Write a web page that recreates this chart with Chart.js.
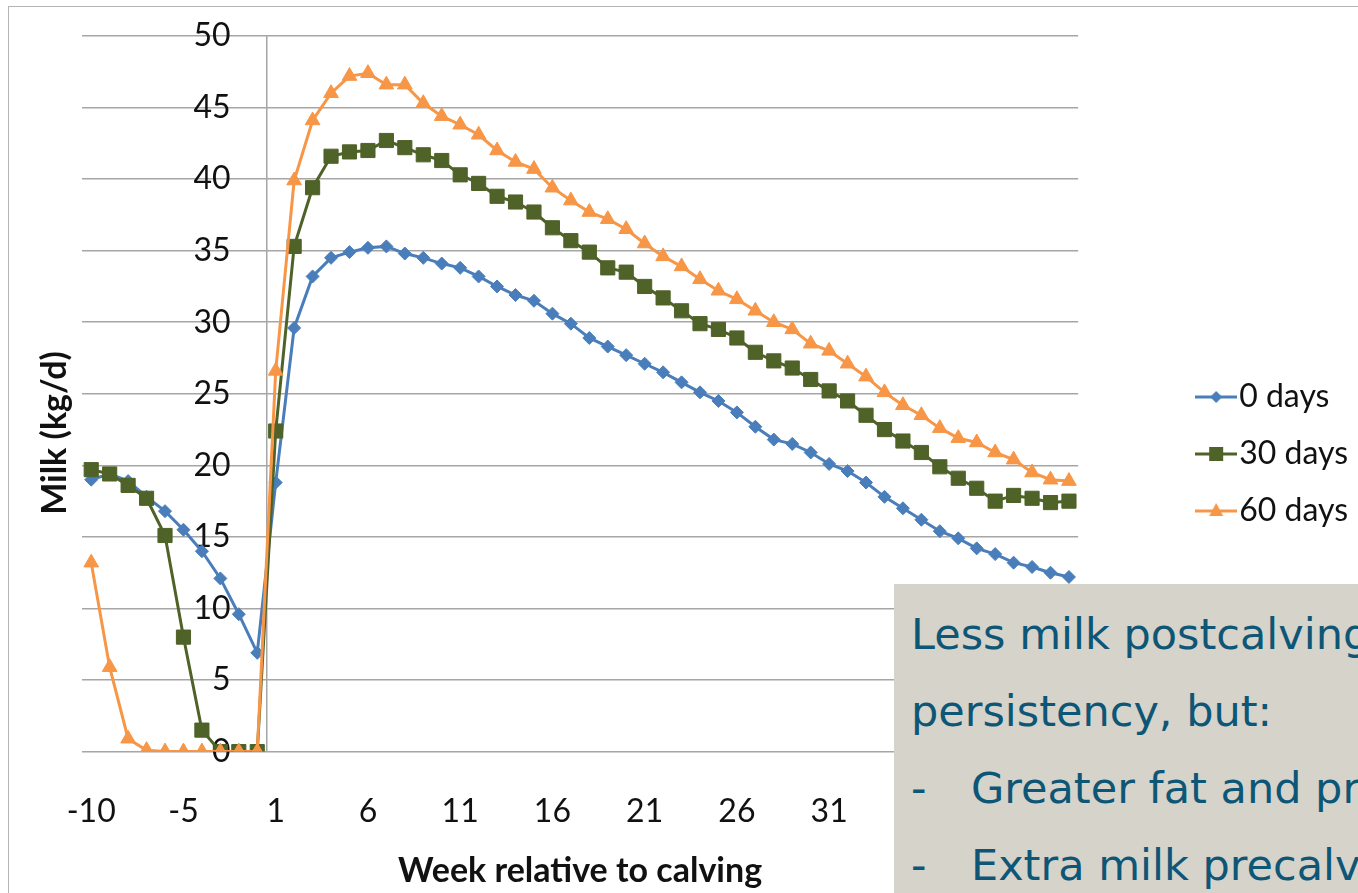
<!DOCTYPE html>
<html>
<head>
<meta charset="utf-8">
<title>Milk yield by dry period length</title>
<script src="https://cdn.jsdelivr.net/npm/chart.js@4.4.1/dist/chart.umd.min.js"></script>
<style>
    html, body { margin: 0; padding: 0; background: #fff; overflow: hidden; }
    .stage { position: relative; width: 1358px; height: 893px; overflow: hidden; }
    .frame {
        position: absolute; left: 8px; top: 6px; width: 1400px; height: 1000px;
        border: 1.5px solid #b4b4b4; box-sizing: border-box;
    }
    #milkChart { position: absolute; left: 0; top: 0; }
    .note {
        position: absolute; left: 894px; top: 584px; right: 0; bottom: 0;
        background: #d6d3cb; color: #0d5676;
        font-family: "DejaVu Sans", Verdana, sans-serif; font-size: 43px;
        line-height: 77px; padding: 12px 0 0 17px; white-space: nowrap; overflow: hidden;
    }
    .note .dash { display: inline-block; width: 60px; }
</style>
</head>
<body>
<div class="stage">
    <div class="frame"></div>
    <canvas id="milkChart" width="1358" height="893"></canvas>
    <div class="note">
        <div>Less milk postcalving</div>
        <div>persistency, but:</div>
        <div><span class="dash">-</span>Greater fat and protein</div>
        <div><span class="dash">-</span>Extra milk precalving</div>
    </div>
</div>

<script>
// --- Data: weekly milk yield around calving for three dry period lengths ---
const weeks = [-10, -9, -8, -7, -6, -5, -4, -3, -2, -1,
    1, 2, 3, 4, 5, 6, 7, 8, 9, 10, 11, 12, 13, 14, 15, 16, 17, 18, 19, 20, 21, 22,
    23, 24, 25, 26, 27, 28, 29, 30, 31, 32, 33, 34, 35, 36, 37, 38, 39, 40, 41, 42, 43, 44];

const days0 = [19.0, 19.4, 18.9, 17.8, 16.8, 15.5, 14.0, 12.1, 9.6, 6.9,
    18.8, 29.6, 33.2, 34.5, 34.9, 35.2, 35.3, 34.8, 34.5, 34.1, 33.8, 33.2, 32.5, 31.9, 31.5, 30.6,
    29.9, 28.9, 28.3, 27.7, 27.1, 26.5, 25.8, 25.1, 24.5, 23.7, 22.7, 21.8, 21.5, 20.9, 20.1, 19.6,
    18.8, 17.8, 17.0, 16.2, 15.4, 14.9, 14.2, 13.8, 13.2, 12.9, 12.5, 12.2];

const days30 = [19.7, 19.4, 18.6, 17.7, 15.1, 8.0, 1.5, 0, 0, 0,
    22.4, 35.3, 39.4, 41.6, 41.9, 42.0, 42.7, 42.2, 41.7, 41.3, 40.3, 39.7, 38.8, 38.4, 37.7, 36.6,
    35.7, 34.9, 33.8, 33.5, 32.5, 31.7, 30.8, 29.9, 29.5, 28.9, 27.9, 27.3, 26.8, 26.0, 25.2, 24.5,
    23.5, 22.5, 21.7, 20.9, 19.9, 19.1, 18.4, 17.5, 17.9, 17.7, 17.4, 17.5];

const days60 = [13.2, 5.9, 0.9, 0.1, 0, 0, 0, 0, 0, 0,
    26.6, 39.9, 44.1, 46.0, 47.2, 47.4, 46.6, 46.6, 45.3, 44.4, 43.8, 43.1, 42.0, 41.2, 40.7, 39.4,
    38.5, 37.7, 37.2, 36.5, 35.5, 34.6, 33.9, 33.0, 32.2, 31.6, 30.8, 30.0, 29.5, 28.5, 28.0, 27.1,
    26.2, 25.1, 24.2, 23.5, 22.6, 21.9, 21.6, 20.9, 20.4, 19.5, 19.0, 18.9];

const seriesNames = ["0 days", "30 days", "60 days"];
const yTicks = [0, 5, 10, 15, 20, 25, 30, 35, 40, 45, 50];
const xTitle = "Week relative to calving";
const yTitle = "Milk (kg/d)";

// --- Styling ---
const BLUE = "#4a7ebb";
const GREEN = "#4f6228";
const ORANGE = "#f79646";
const GRID = "#a6a6a6";
const FONT = "Lato, 'Open Sans', sans-serif";

Chart.defaults.font.family = FONT;
Chart.defaults.color = "#111";

// first week after calving; the value axis sits on the boundary before it
const calvingIndex = weeks.indexOf(1);

// Small line+marker swatches for the legend
function makeLegendIcon(color, shape) {
    const c = document.createElement("canvas");
    c.width = 42;
    c.height = 18;
    const g = c.getContext("2d");
    g.strokeStyle = color;
    g.fillStyle = color;
    g.lineWidth = 3;
    g.beginPath();
    g.moveTo(0, 9);
    g.lineTo(42, 9);
    g.stroke();
    g.beginPath();
    if (shape === "diamond") {
        g.moveTo(21, 3); g.lineTo(27, 9); g.lineTo(21, 15); g.lineTo(15, 9);
    } else if (shape === "square") {
        g.rect(14, 2, 14, 14);
    } else {
        g.moveTo(21, 1); g.lineTo(28, 14); g.lineTo(14, 14);
    }
    g.closePath();
    g.fill();
    return c;
}

const legendIcons = [
    makeLegendIcon(BLUE, "diamond"),
    makeLegendIcon(GREEN, "square"),
    makeLegendIcon(ORANGE, "triangle")
];

// Axis titles: y rotated on the far left, x centred under the plot
const axisTitlePlugin = {
    id: "axisTitles",
    afterDraw(chart) {
        const ctx = chart.ctx;
        const area = chart.chartArea;
        ctx.save();
        ctx.font = "bold 34px " + FONT;
        ctx.fillStyle = "#111";
        ctx.textAlign = "center";
        ctx.textBaseline = "middle";
        ctx.fillText(xTitle, (area.left + area.right) / 2, 871);
        ctx.translate(55, 433);
        ctx.rotate(-Math.PI / 2);
        ctx.fillText(yTitle, 0, 0);
        ctx.restore();
    }
};

function series(label, data, color, style, radius, order) {
    return {
        label: label,
        data: data,
        borderColor: color,
        backgroundColor: color,
        borderWidth: 3,
        pointStyle: style,
        pointRadius: radius,
        pointHoverRadius: radius,
        pointBorderWidth: 1,
        pointBackgroundColor: color,
        pointBorderColor: color,
        tension: 0,
        order: order
    };
}

const ctx = document.getElementById("milkChart");
const chart = new Chart(ctx, {
    type: "line",
    data: {
        labels: weeks,
        datasets: [
            series(seriesNames[0], days0, BLUE, "rectRot", 6.5, 2),
            series(seriesNames[1], days30, GREEN, "rect", 10, 1),
            series(seriesNames[2], days60, ORANGE, "triangle", 8.5, 0)
        ]
    },
    options: {
        responsive: false,
        animation: false,
        events: [],
        layout: { padding: { top: 36, left: 82, right: 0, bottom: 21 } },
        scales: {
            x: {
                type: "category",
                position: "bottom",
                offset: true,
                // only the line between week -1 and week 1 is drawn (the value axis)
                grid: {
                    offset: true,
                    drawTicks: false,
                    lineWidth: 1.5,
                    color: (c) => (c.index === calvingIndex ? GRID : "rgba(0,0,0,0)")
                },
                border: { display: false },
                ticks: {
                    autoSkip: false,
                    maxRotation: 0,
                    padding: 41,
                    font: { size: 32 },
                    callback: (value, index) => (index % 5 === 0 ? weeks[index] : "")
                }
            },
            y: {
                min: 0,
                max: 50,
                // labels end a short gap to the left of the week -1 / week 1 boundary
                position: { x: calvingIndex - 2.45 },
                afterBuildTicks: (scale) => { scale.ticks = yTicks.map(v => ({ value: v })); },
                grid: { color: GRID, lineWidth: 1.5, drawTicks: false },
                border: { display: false },
                ticks: { padding: 0, font: { size: 32 } }
            },
            // spacer between the plot and the legend
            ySpacer: {
                type: "linear",
                position: "right",
                grid: { display: false },
                border: { display: false },
                ticks: { display: false },
                afterFit: (scale) => { scale.width = 106; }
            }
        },
        plugins: {
            legend: {
                position: "right",
                align: "center",
                labels: {
                    usePointStyle: true,
                    pointStyleWidth: 14,
                    padding: 25,
                    color: "#111",
                    font: { size: 32 },
                    sort: (a, b) => a.datasetIndex - b.datasetIndex,
                    generateLabels(chart) {
                        const items = Chart.defaults.plugins.legend.labels.generateLabels(chart);
                        items.forEach(item => { item.pointStyle = legendIcons[item.datasetIndex]; });
                        return items;
                    }
                }
            },
            tooltip: { enabled: false }
        }
    },
    plugins: [axisTitlePlugin]
});
</script>
</body>
</html>
